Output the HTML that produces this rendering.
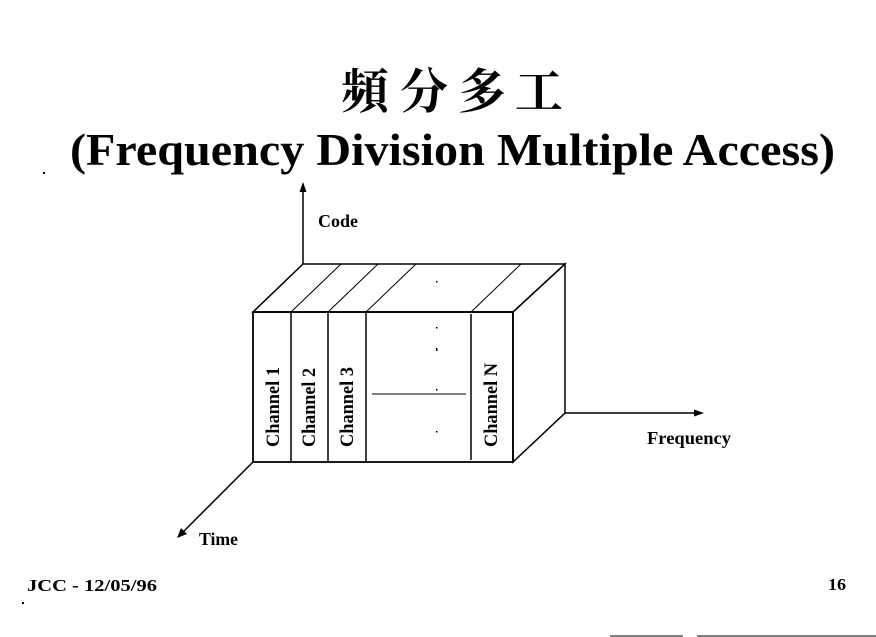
<!DOCTYPE html>
<html>
<head>
<meta charset="utf-8">
<style>
html,body{margin:0;padding:0;background:#fff;}
svg{display:block;}
.b{font-family:"Liberation Serif",serif;font-weight:bold;fill:#000;}
.c{font-family:"Liberation Serif","Noto Serif CJK SC","Noto Sans CJK TC",serif;fill:#000;font-weight:bold;}
</style>
</head>
<body>
<svg width="876" height="637" viewBox="0 0 876 637" xmlns="http://www.w3.org/2000/svg">
<rect width="876" height="637" fill="#fff"/>
<!-- Chinese title -->
<text class="c" x="341" y="108" font-size="48">頻</text>
<text class="c" x="400" y="108" font-size="48">分</text>
<text class="c" x="458" y="108" font-size="48">多</text>
<text class="c" x="515" y="108" font-size="48">工</text>
<!-- English title -->
<text class="b" x="70" y="165" font-size="46" textLength="765" lengthAdjust="spacingAndGlyphs">(Frequency Division Multiple Access)</text>
<rect x="43" y="172" width="2" height="2" fill="#000"/>

<g stroke="#000" fill="none" stroke-width="1.5">
  <line x1="303" y1="264" x2="303" y2="190"/>
  <line x1="565" y1="413" x2="696" y2="413"/>
  <line x1="253" y1="462" x2="182" y2="533"/>
  <polygon points="253,312 303,264 565,264 513,312"/>
  <polygon points="513,312 565,264 565,413 513,462"/>
  <rect x="253" y="312" width="260" height="150" stroke-width="1.8"/>
  <line x1="291" y1="312" x2="291" y2="462"/>
  <line x1="328" y1="312" x2="328" y2="462"/>
  <line x1="366" y1="312" x2="366" y2="462"/>
  <line x1="471" y1="314" x2="471" y2="460"/>
  <line x1="291" y1="312" x2="341" y2="264" stroke-width="1"/>
  <line x1="328" y1="312" x2="378" y2="264" stroke-width="1"/>
  <line x1="366" y1="312" x2="416" y2="264" stroke-width="1"/>
  <line x1="471" y1="312" x2="521" y2="264" stroke-width="1"/>
  <line x1="372" y1="394" x2="466" y2="394" stroke-width="1"/>
</g>
<polygon points="303,182 299.5,192 306.5,192" fill="#000"/>
<polygon points="704,413 694,409.5 694,416.5" fill="#000"/>
<polygon points="177,538 181,528 187,534" fill="#000"/>

<g fill="#000">
  <rect x="436" y="281" width="1.5" height="1.5"/>
  <rect x="436" y="327" width="1.5" height="1.5"/>
  <rect x="436" y="348" width="1.5" height="3"/>
  <rect x="436" y="389" width="1.5" height="1.5"/>
  <rect x="436" y="431" width="1.5" height="1.5"/>
</g>

<text class="b" x="318" y="227" font-size="18" textLength="40" lengthAdjust="spacingAndGlyphs">Code</text>
<text class="b" x="647" y="444" font-size="18" textLength="84" lengthAdjust="spacingAndGlyphs">Frequency</text>
<text class="b" x="199" y="545" font-size="18" textLength="39" lengthAdjust="spacingAndGlyphs">Time</text>

<text class="b" font-size="18.5" transform="translate(279,447) rotate(-90)" textLength="80" lengthAdjust="spacingAndGlyphs">Channel 1</text>
<text class="b" font-size="18.5" transform="translate(315,447) rotate(-90)" textLength="79" lengthAdjust="spacingAndGlyphs">Channel 2</text>
<text class="b" font-size="18.5" transform="translate(353,447) rotate(-90)" textLength="80" lengthAdjust="spacingAndGlyphs">Channel 3</text>
<text class="b" font-size="18.5" transform="translate(497,447) rotate(-90)" textLength="84" lengthAdjust="spacingAndGlyphs">Channel N</text>

<text class="b" x="27" y="591" font-size="17" textLength="130" lengthAdjust="spacingAndGlyphs">JCC - 12/05/96</text>
<text class="b" x="828" y="590" font-size="17" textLength="18" lengthAdjust="spacingAndGlyphs">16</text>
<rect x="22" y="602" width="2" height="2" fill="#000"/>
<g stroke="#000" stroke-width="1">
  <line x1="610" y1="636" x2="683" y2="636"/>
  <line x1="697" y1="636" x2="876" y2="636"/>
</g>
</svg>
</body>
</html>
